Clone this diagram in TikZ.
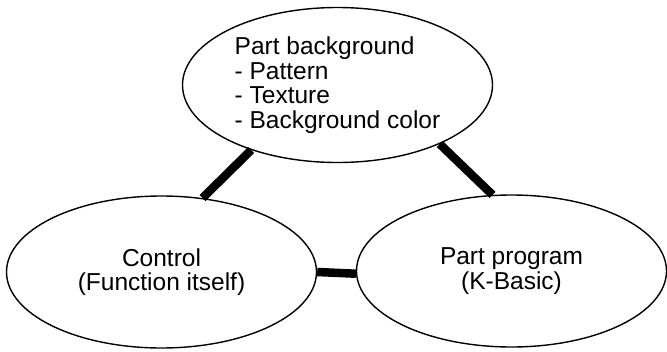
\documentclass[tikz,border=0pt]{standalone}
\usepackage{fontspec}
\setmainfont{Liberation Sans}
\usetikzlibrary{shapes.geometric}

\begin{document}
\begin{tikzpicture}[x=1pt,y=-1pt,
  part/.style={draw=black,line width=1.4pt,ellipse,inner sep=0pt,
    minimum width=310pt,minimum height=152pt,
    font=\fontsize{24.5}{24.5}\selectfont},
  link/.style={line width=8.5pt,black}]
\useasboundingbox (0,0) rectangle (667,351);

\node[part,minimum height=155pt,align=left] (bg) at (337.5,85)
  {Part background\\- Pattern\\- Texture\\- Background color};
\node[part,align=center] (ctrl) at (161.5,272) {Control\\(Function itself)};
\node[part,align=center] (prog) at (511.5,271) {Part program\\(K-Basic)};

\draw[link] (ctrl.61) -- (bg.217);
\draw[link] (bg.330) -- (prog.104);
\draw[link] (ctrl.-0.8) -- (prog.181.1);
\end{tikzpicture}
\end{document}
